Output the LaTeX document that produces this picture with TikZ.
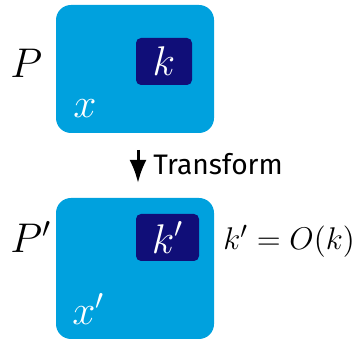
\documentclass[tikz,border=0pt]{standalone}
\usepackage{amsmath}
\usepackage{fontspec}
\setsansfont{Fira Sans}
\usepackage{tikz}
\usetikzlibrary{arrows.meta, positioning}

\definecolor{boxblue}{RGB}{0,161,222}
\definecolor{keyblue}{RGB}{16,14,120}

\begin{document}
\begin{tikzpicture}[x=0.5pt, y=0.5pt,
    progbox/.style={fill=boxblue, rounded corners=7.5pt, inner sep=0pt},
    keybox/.style={fill=keyblue, text=white, rounded corners=2.5pt, inner sep=0pt,
                   font=\fontsize{22}{26}\selectfont},
    lbl/.style={inner sep=0pt, font=\fontsize{22}{26}\selectfont}]
    \useasboundingbox (0,0) rectangle (353,340);
    % original program
    \node[progbox, minimum width=79pt, minimum height=64pt] (prog) at (135,271) {};
    \node[keybox, minimum width=28pt, minimum height=23.5pt] (key) at (164,278.5) {$k$};
    \node[lbl, anchor=base west] (P) at (10,262) {$P$};
    \node[lbl, text=white, anchor=base west] (x) at (73,222) {$x$};
    % transformed program
    \node[progbox, minimum width=79pt, minimum height=70.5pt] (tprog) at (135,71.5) {};
    \node[keybox, minimum width=31.5pt, minimum height=23.5pt] (tkey) at (167.5,102.5) {$k'$};
    \node[lbl, anchor=base west] (tP) at (10,87) {$P'$};
    \node[lbl, text=white, anchor=base west] (tx) at (72,15) {$x'$};
    \node[inner sep=0pt, anchor=base west, scale=1.09, font=\fontsize{15}{18}\selectfont]
      (rel) at (223,90) {$k' = O(k)$};
    % transform arrow
    \coordinate (arrtop) at (138,190);
    \coordinate (arrbot) at (138,157);
    \draw[line width=1.5pt, -{Latex[length=11.5pt, width=8.5pt]}] (arrtop) -- (arrbot);
    \node[inner sep=0pt, anchor=base west, font=\sffamily\fontsize{14.1}{18}\selectfont]
      (trans) at (153,165) {Transform};
\end{tikzpicture}
\end{document}
